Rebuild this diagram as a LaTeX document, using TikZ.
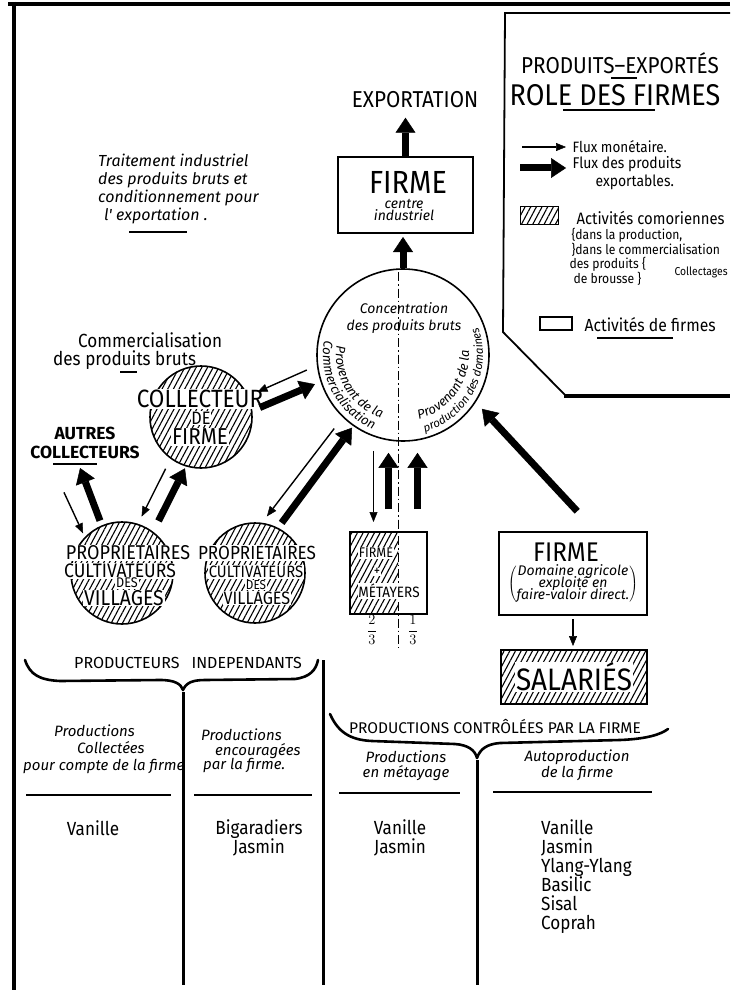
\documentclass[tikz,border=0pt]{standalone}
\usepackage{amsmath}
\usepackage{fontspec}
\setmainfont{Fira Sans}[FakeStretch=0.9]
\newfontfamily\notefont{Fira Sans}
\usetikzlibrary{arrows.meta,positioning,calc,decorations.text,patterns.meta}
\tikzset{
  money/.style={-{Triangle[length=10pt,width=8pt,line width=0.5pt]}, line width=1.4pt},
  goods/.style={-{Triangle[length=15pt,width=20pt,line width=0.5pt]}, line width=7pt},
  hatch/.style={pattern={Lines[angle=62,distance=5pt,line width=1.1pt]}},
  firmbox/.style={draw, line width=2pt, inner sep=0pt},
  disc/.style={circle, draw, line width=1.6pt, inner sep=0pt},
  onhatch/.style={fill=white, inner sep=0.8pt},
  uline/.style={line width=1.8pt},
  brace/.style={line width=2.6pt, line cap=round, line join=round},
  colline/.style={line width=3pt},
  midline/.style={dash pattern=on 9pt off 3pt on 1.5pt off 3pt, line width=1pt},
}
\newcommand{\hand}[2]{\fontsize{#1}{#2}\selectfont}
\newcommand{\notes}[2]{\notefont\itshape\fontsize{#1}{#2}\selectfont}
\newcommand{\wide}[2]{\notefont\fontsize{#1}{#2}\selectfont}

\begin{document}
\begin{tikzpicture}[x=1pt, y=-1pt]
  \useasboundingbox (0,0) rectangle (730,992);
  % frame
  \draw[line width=3.5pt] (8,4) -- (730,4);
  \draw[line width=4pt] (14,2) -- (14,990);

  % legend panel
  \draw[line width=1.8pt] (730,13) -- (505,13) -- (503,332) -- (566,396);
  \draw[line width=4.5pt] (564,396) -- (730,396);
  \node (leg-head) at (620,63) {\hand{23}{23}PRODUITS–EXPORTÉS};
  \draw[uline] (611,78) -- (637,78);
  \node (leg-title) at (615,95) {\hand{30}{30}ROLE DES FIRMES};
  \draw[uline] (563,110) -- (655,110);
  \node[anchor=west] (leg-money) at (569,147) {\hand{15}{15}Flux monétaire.};
  \draw[money] ([xshift=-47pt]leg-money.west) -- ([xshift=-3pt]leg-money.west);
  \node[anchor=west, align=left, font=\hand{15.5}{18}] (leg-goods) at (569,173)
    {Flux des produits\\\hspace*{23pt}exportables.};
  \draw[goods] ([xshift=-49pt,yshift=5pt]leg-goods.west) -- ([xshift=-3pt,yshift=5pt]leg-goods.west);
  \draw[hatch, line width=1pt] (520,207) rectangle (558,225);
  \node[anchor=west] (leg-como) at (573,218) {\hand{16.5}{17}Activités comoriennes};
  \node[anchor=west, align=left, font=\hand{13.5}{14}] (leg-dans) at (568,242)
    {\{dans la production,\\\}dans le commercialisation};
  \node[anchor=west, align=left, font=\hand{13.5}{13}] (leg-brousse) at (566,271)
    {des produits \{\\\hspace*{4pt}de brousse \}};
  \node[anchor=west] (leg-coll) at (671,272) {\hand{11.5}{12}Collectages};
  \draw[line width=1.5pt] (540,317) rectangle (572,330);
  \node[anchor=west] (leg-firm) at (581,325) {\hand{17.5}{18}Activités de firmes};
  \draw[uline] (597,338) -- (673,338);

  % industrial firm and export
  \node (export) at (415,100) {\hand{23}{23}EXPORTATION};
  \node[firmbox, minimum width=135pt, minimum height=76pt] (usine) at (405.5,195) {};
  \node (usine-name) at (408,182) {\hand{32}{32}FIRME};
  \node[align=center, font=\notes{14}{12}] (usine-sub) at (404,210) {centre\\industriel};

  % notes on the left
  \node[anchor=north west, align=left, inner sep=0pt, font=\notes{16}{18}] (traitement) at (98,154)
    {Traitement industriel\\des produits bruts et\\conditionnement pour\\\hspace*{6pt}l' exportation .};
  \draw[uline] (129,232) -- (187,232);
  \node[anchor=west, align=left, inner sep=0pt, font=\hand{19}{18}] (commerce) at (53,351)
    {\hspace*{25pt}Commercialisation\\des produits bruts};
  \draw[uline] (120,372) -- (137,372);

  % gathering circle
  \draw[midline] (398,272) -- (398,648);
  \node[disc, minimum size=172pt] (centre) at (403,355) {};
  \node[align=center, font=\notes{14}{17}] (centre-t) at (404,318) {Concentration\\des produits bruts};
  \path[decorate, decoration={text along path, text align=center,
      text={|\notes{13}{13}|Provenant de la}}]
    (centre.center) ++(-167:67) arc[start angle=-167, end angle=-256, radius=67];
  \path[decorate, decoration={text along path, text align=center,
      text={|\notes{13}{13}|Commercialisation}}]
    (centre.center) ++(-165:80) arc[start angle=-165, end angle=-253, radius=80];
  \path[decorate, decoration={text along path, text align=center,
      text={|\notes{13}{13}|Provenant de la}}]
    (centre.center) ++(76:66) arc[start angle=76, end angle=-4, radius=66];
  \path[decorate, decoration={text along path, text align=center,
      text={|\notes{11.5}{12}|production des domaines}}]
    (centre.center) ++(80:80) arc[start angle=80, end angle=-26, radius=80];

  % collectors and villages
  \node[disc, hatch, minimum size=102pt] (collecteur) at (201,417) {};
  \node[onhatch] (coll-a) at (200,399) {\hand{25}{25}COLLECTEUR};
  \node[onhatch] (coll-b) at (201,418) {\hand{18}{18}DE};
  \node[onhatch] (coll-c) at (200,437) {\hand{23}{23}FIRME};
  \node[align=center, font=\wide{17.5}{19}\bfseries] (autres) at (85,443) {AUTRES\\COLLECTEURS};
  \draw[uline] (53,464) -- (97,464);

  \node[disc, hatch, minimum size=102pt] (villA) at (122,573) {};
  \node[onhatch] (villA-a) at (128,553) {\hand{20}{20}PROPRIETAIRES};
  \node[onhatch] (villA-b) at (120,571) {\hand{19.5}{20}CULTIVATEURS};
  \node[onhatch] (villA-c) at (127,583) {\hand{14}{14}DES};
  \node[onhatch] (villA-d) at (124,598) {\hand{21.5}{22}VILLAGES};

  \node[disc, hatch, minimum size=100pt] (villB) at (255,573) {};
  \node[onhatch] (villB-a) at (257,553) {\hand{19}{19}PROPRIETAIRES};
  \node[onhatch] (villB-b) at (256,572) {\hand{16.5}{17}CULTIVATEURS};
  \node[onhatch] (villB-c) at (256,585) {\hand{13}{13}DES};
  \node[onhatch] (villB-d) at (257,598) {\hand{18}{18}VILLAGES};

  % share-cropping
  \fill[hatch] (350,532) rectangle (398,614);
  \draw[midline] (398,272) -- (398,648);
  \node[firmbox, minimum width=77pt, minimum height=82pt] (metayers) at (388.5,573) {};
  \node[onhatch] (met-a) at (376,553) {\hand{14}{14}FIRME};
  \node[onhatch] (met-b) at (377,572) {\hand{14}{14}+};
  \node[onhatch] (met-c) at (389,591) {\hand{15}{15}MÉTAYERS};
  \node (part-firm) at (372,630) {\hand{14}{14}$\dfrac{2}{3}$};
  \node (part-met) at (413,630) {\hand{14}{14}$\dfrac{1}{3}$};

  % agricultural estate
  \node[firmbox, minimum width=148pt, minimum height=83pt] (domaine) at (573,573.5) {};
  \node (domaine-name) at (566,552) {\hand{27}{27}FIRME};
  \node (domaine-sub) at (573,584)
    {$\left(\vcenter{\hbox{\notes{14}{13}\begin{tabular}{@{}c@{}}Domaine agricole\\[-3pt]exploité en\\[-3pt]faire-valoir direct.\end{tabular}}}\right)$};
  \node[firmbox, hatch, minimum width=146pt, minimum height=54pt] (salaries) at (574,677) {};
  \node[onhatch] (salaries-t) at (574,677) {\hand{31}{31}SALARIÉS};

  % flows
  \draw[goods, shorten >=3pt] (centre.north) -- (centre.north |- usine.south);
  \draw[goods, shorten >=6pt] (usine.north) -- (usine.north |- export.south);
  \draw[money, shorten <=11pt, shorten >=10pt] (centre.187) -- (collecteur.24);
  \draw[goods, shorten <=8pt, shorten >=6pt] (collecteur.7) -- (centre.198);
  \draw[money, shorten <=11pt, shorten >=8pt] (collecteur.234) -- (villA.72);
  \draw[goods, shorten <=12pt, shorten >=2pt] (villA.53) -- (collecteur.253);
  \draw[goods, shorten <=5pt, shorten >=6pt] (villA.113) -- (autres.250);
  \draw[money, shorten <=33pt, shorten >=4pt] (autres.209) -- (villA.136);
  \draw[money, shorten <=14pt, shorten >=8pt] (centre.226) -- (villB.82);
  \draw[goods, shorten <=6pt, shorten >=2pt] (villB.63) -- (centre.235);
  \coordinate (met-in) at ([xshift=-15pt]metayers.north);
  \coordinate (met-out) at ([xshift=29pt]metayers.north);
  \draw[money, shorten <=9pt, shorten >=9pt] (met-in |- centre.south) -- (met-in);
  \draw[goods, shorten <=22pt, shorten >=11pt] (metayers.north) -- (metayers.north |- centre.south);
  \draw[goods, shorten <=22pt, shorten >=11pt] (met-out) -- (met-out |- centre.south);
  \draw[goods, shorten <=27pt, shorten >=9pt] (domaine.62) -- (centre.327);
  \draw[money, shorten <=3pt, shorten >=3pt] (domaine.south) -- (domaine.south |- salaries.north);

  % independent producers
  \draw[brace] (25,660) .. controls (30,675) and (40,680) .. (60,681) -- (160,680)
    .. controls (175,680) and (181,684) .. (183,690)
    .. controls (186,683) and (192,680) .. (205,680) -- (295,679)
    .. controls (310,677) and (316,670) .. (318,660);
  \node (indep) at (188,663) {\wide{16}{16}PRODUCTEURS\hspace{12pt}INDEPENDANTS};
  \draw[colline] (183,692) -- (183,985);
  \draw[colline] (323,660) -- (323,985);

  % firm-controlled production
  \draw[brace] (330,714) .. controls (338,732) and (350,740) .. (372,741) -- (455,744)
    .. controls (468,745) and (475,750) .. (477,758)
    .. controls (480,749) and (487,744) .. (500,743) -- (620,740)
    .. controls (645,739) and (660,735) .. (668,729);
  \node (controle) at (495,727) {\wide{15.5}{16}PRODUCTIONS CONTRÔLÉES PAR LA FIRME};
  \draw[colline] (477,760) -- (477,985);

  % column heads
  \node[anchor=west, align=left, inner sep=0pt, font=\notes{15}{17}] (col-collecte) at (23,749)
    {\hspace*{31pt}Productions\\\hspace*{54pt}Collectées\\pour compte de la firme};
  \node[anchor=west, align=left, inner sep=0pt, font=\notes{15}{14.5}] (col-encourage) at (201,751)
    {Productions\\\hspace*{14pt}encouragées\\\hspace*{2pt}par la firme.};
  \node[align=center, font=\notes{15}{15}] (col-metayage) at (406,766) {Productions\\en métayage};
  \node[align=center, font=\notes{15}{16}] (col-auto) at (577,765) {Autoproduction\\de la firme};
  \draw[uline] (26,795) -- (171,795);
  \draw[uline] (194,795) -- (312,795);
  \draw[uline] (339,793) -- (460,793);
  \draw[uline] (493,792) -- (652,792);

  % crops
  \node (crop-1) at (93,828) {\hand{19}{19}Vanille};
  \node[align=center, font=\hand{19}{19}] (crop-2) at (259,837.5) {Bigaradiers\\Jasmin};
  \node[align=center, font=\hand{19}{19}] (crop-3) at (400,837.5) {Vanille\\Jasmin};
  \node[anchor=north west, align=left, inner sep=0pt, font=\hand{19}{19}] (crop-4) at (541,819)
    {Vanille\\Jasmin\\Ylang-Ylang\\Basilic\\Sisal\\Coprah};
\end{tikzpicture}
\end{document}
